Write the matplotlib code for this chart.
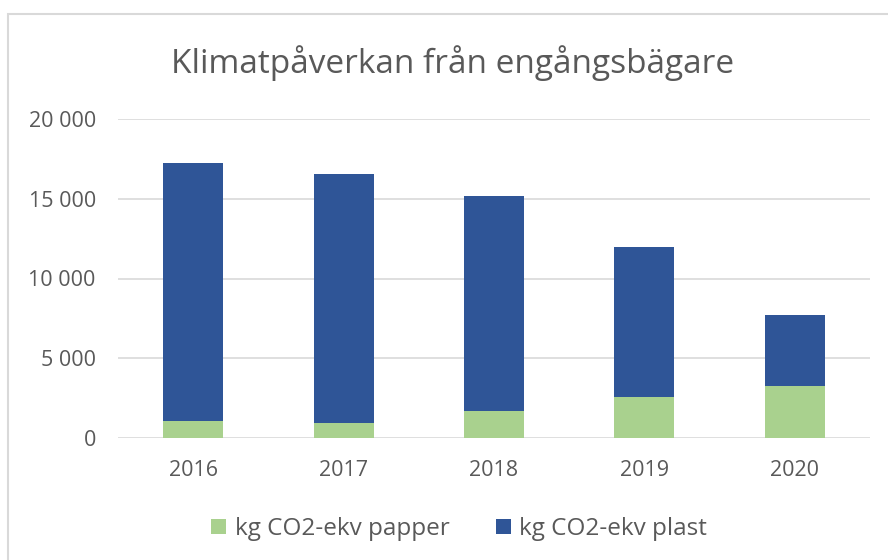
import matplotlib.pyplot as plt
from matplotlib.patches import Rectangle
from matplotlib.ticker import FuncFormatter

# data (kg CO2-ekv)
years  = ['2016', '2017', '2018', '2019', '2020']
papper = [1040, 940, 1710, 2540, 3230]
totals = [17230, 16560, 15170, 12000, 7710]
plast  = [t - p for t, p in zip(totals, papper)]

green = '#A9D18E'
blue  = '#2F5597'
grey  = '#595959'

plt.rcParams['font.family'] = ['Open Sans', 'DejaVu Sans']

fig = plt.figure(figsize=(8.88, 5.6), dpi=100)
ax = fig.add_axes([118/888, 1 - 438/560, (870 - 118)/888, (438 - 119)/560])

x = range(len(years))
ax.bar(x, papper, width=0.4, color=green, label='kg CO2-ekv papper', zorder=3)
ax.bar(x, plast, width=0.4, bottom=papper, color=blue, label='kg CO2-ekv plast', zorder=3)

ax.set_xlim(-0.5, len(years) - 0.5)
ax.set_ylim(0, 20000)
ax.set_yticks([0, 5000, 10000, 15000, 20000])
ax.yaxis.set_major_formatter(FuncFormatter(lambda v, p: f'{int(v):,}'.replace(',', ' ')))
ax.set_xticks(list(x))
ax.set_xticklabels(years)
ax.tick_params(axis='both', length=0, colors=grey, labelsize=15.5)
ax.tick_params(axis='y', pad=16)
ax.tick_params(axis='x', pad=16)
ax.grid(axis='y', color='#D9D9D9', linewidth=1.2, zorder=0)
for s in ax.spines.values():
    s.set_visible(False)

fig.text(453/888, 1 - 63/560, 'Klimatpåverkan från engångsbägare',
         ha='center', va='center', fontsize=24, color=grey)

fig.legend(loc='center', bbox_to_anchor=(459/888, 1 - 529/560), ncol=2,
           frameon=False, fontsize=17.5, labelcolor=grey, handlelength=0.62,
           handleheight=0.62, handletextpad=0.35, columnspacing=1.9)

# chart border
fig.patches.append(Rectangle((8/888, -0.05), 2, 1 - 14/560 + 0.05,
                             transform=fig.transFigure, fill=False,
                             edgecolor='#D9D9D9', linewidth=1.5))

fig.savefig('out.png', dpi=100)
